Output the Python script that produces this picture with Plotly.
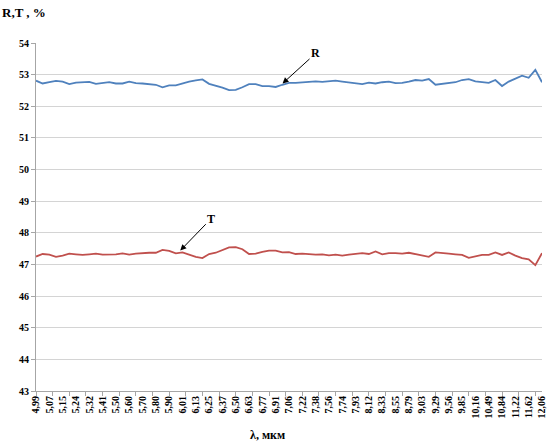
import numpy as np
import plotly.graph_objects as go

# Wavelength tick labels (category axis, every 2nd point)
wl_labels = ["4,99","5,07","5,15","5,24","5,32","5,41","5,50","5,60","5,70","5,80",
             "5,90","6,01","6,13","6,25","6,37","6,50","6,63","6,77","6,91","7,06",
             "7,22","7,38","7,56","7,74","7,93","8,12","8,33","8,55","8,79","9,03",
             "9,29","9,56","9,85","10,16","10,49","10,84","11,22","11,62","12,06"]

R_values = [52.81, 52.72, 52.76, 52.80, 52.78, 52.70, 52.75, 52.77, 52.77, 52.71,
            52.74, 52.76, 52.72, 52.72, 52.78, 52.73, 52.72, 52.69, 52.68, 52.60,
            52.66, 52.66, 52.73, 52.78, 52.82, 52.85, 52.71, 52.66, 52.59, 52.51,
            52.52, 52.60, 52.70, 52.70, 52.64, 52.64, 52.61, 52.68, 52.74, 52.74,
            52.75, 52.76, 52.79, 52.77, 52.80, 52.81, 52.78, 52.75, 52.72, 52.70,
            52.75, 52.72, 52.76, 52.78, 52.73, 52.74, 52.78, 52.83, 52.81, 52.86,
            52.68, 52.71, 52.75, 52.76, 52.83, 52.86, 52.79, 52.76, 52.74, 52.83,
            52.64, 52.78, 52.87, 52.97, 52.90, 53.15, 52.76]

T_values = [47.25, 47.33, 47.31, 47.24, 47.28, 47.34, 47.32, 47.30, 47.32, 47.34,
            47.31, 47.31, 47.32, 47.35, 47.31, 47.34, 47.36, 47.37, 47.37, 47.46,
            47.43, 47.35, 47.38, 47.30, 47.24, 47.20, 47.33, 47.37, 47.45, 47.54,
            47.55, 47.48, 47.33, 47.34, 47.40, 47.44, 47.44, 47.38, 47.39, 47.33,
            47.34, 47.32, 47.31, 47.32, 47.29, 47.31, 47.28, 47.31, 47.34, 47.36,
            47.33, 47.41, 47.32, 47.36, 47.36, 47.34, 47.37, 47.32, 47.28, 47.24,
            47.38, 47.35, 47.34, 47.32, 47.30, 47.21, 47.25, 47.30, 47.30, 47.38,
            47.30, 47.38, 47.28, 47.20, 47.16, 46.98, 47.36]

n = len(R_values)
x = list(range(n))
label_pos = list(range(0, n, 2))
minor_pos = list(np.arange(0, n - 1 + 0.01, 2.5))

serif = "Liberation Serif"

fig = go.Figure()
fig.add_trace(go.Scatter(x=x, y=R_values, mode="lines", name="R",
                         line=dict(color="#4F81BD", width=1.8), showlegend=False))
fig.add_trace(go.Scatter(x=x, y=T_values, mode="lines", name="T",
                         line=dict(color="#C0504D", width=1.8), showlegend=False))

fig.update_layout(
    width=551, height=445,
    margin=dict(l=36, r=4, t=43, b=54),
    paper_bgcolor="white", plot_bgcolor="white",
    xaxis=dict(
        range=[0, n - 1], tickmode="array", tickvals=label_pos, ticktext=wl_labels,
        tickangle=-90, ticks="", showgrid=False, zeroline=False,
        showline=True, linecolor="#a6a6a6", linewidth=1,
        ticklabeloverflow="allow",
        tickfont=dict(family=serif, size=10, color="black", weight="bold"),
        minor=dict(tickmode="array", tickvals=minor_pos, ticks="outside",
                   ticklen=4, tickcolor="#a6a6a6", showgrid=False),
    ),
    yaxis=dict(
        range=[43, 54], dtick=1, tick0=43, showgrid=True, gridcolor="#d4d4d4",
        gridwidth=1, zeroline=False, showline=True, linecolor="#a6a6a6",
        ticks="outside", ticklen=4, tickcolor="#a6a6a6",
        tickfont=dict(family=serif, size=10, color="black", weight="bold"),
    ),
    annotations=[
        dict(xref="paper", yref="paper", x=-36/511, y=1 + 31/348, xanchor="left",
             yanchor="middle", text="R,T , %", showarrow=False,
             font=dict(family=serif, size=13, color="black", weight="bold")),
        dict(xref="paper", yref="paper", x=(270-36)/511, y=-(435-391)/348,
             xanchor="center", yanchor="middle", text="λ, мкм", showarrow=False,
             font=dict(family=serif, size=12, color="black", weight="bold")),
        dict(x=37.03, y=52.72, text="R", showarrow=True, ax=33, ay=-30,
             arrowhead=2, arrowsize=1.2, arrowwidth=1, arrowcolor="black",
             font=dict(family=serif, size=12, color="black", weight="bold")),
        dict(x=21.67, y=47.44, text="T", showarrow=True, ax=31, ay=-32,
             arrowhead=2, arrowsize=1.2, arrowwidth=1, arrowcolor="black",
             font=dict(family=serif, size=12, color="black", weight="bold")),
    ],
)

fig.write_html("out.html", config={"displayModeBar": False},
               post_script="document.body.style.margin='0';document.body.style.overflow='hidden';")
